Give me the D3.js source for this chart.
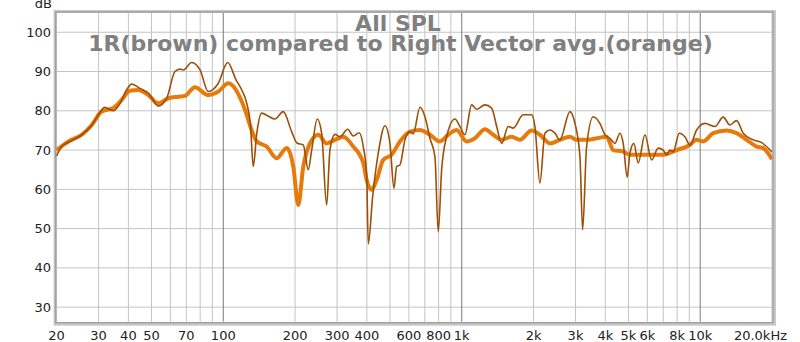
<!DOCTYPE html>
<html><head><meta charset="utf-8">
<script src="https://cdn.jsdelivr.net/npm/d3@7/dist/d3.min.js"></script>
<style>body{margin:0;background:#fff;}svg{display:block;}</style>
</head><body>
<svg id="c" width="800" height="342"></svg>
<script>
const titleTop = "All SPL";
const titleMain = "1R(brown) compared to Right Vector avg.(orange)";
const yTicks = [30,40,50,60,70,80,90,100];
const xGrid = [20,30,40,50,60,70,80,90,100,200,300,400,500,600,700,800,900,1000,2000,3000,4000,5000,6000,7000,8000,9000,10000,20000];
const xDecades = [100,1000,10000];
const xLabelVals = [20,30,40,50,70,100,200,300,400,600,800,1000,2000,3000,4000,5000,6000,8000,10000,20000];
const xLabelText = ["20","30","40","50","70","100","200","300","400","600","800","1k","2k","3k","4k","5k","6k","8k","10k","20.0kHz"];

const brownFreq = [20,21,22.8,25.5,28.1,30.9,31.7,34.6,36.9,39.3,41.3,44.7,48.5,53.4,57.9,62.7,65.8,68,73.7,79.9,86.5,95.3,104.3,113.1,119.5,125.3,130,133.6,138.1,144.9,153.9,164.7,178.4,193.5,203.7,216.5,227.2,234.8,247.8,258.5,271.3,280.1,294,308.6,332.3,350.8,371.7,386.4,399.3,405.5,423.1,446.6,476.4,500,519.6,533.3,550.6,577.9,606.5,626.1,667.9,701,735.6,772,797,823.6,864.3,936.3,982.7,1031,1100,1154,1251,1335,1401,1470,1566,1644,1810,1963,2027,2127,2233,2344,2459,2580,2842,2983,3131,3213,3339,3559,3796,3985,4182,4389,4607,4754,4942,5072,5272,5495,5864,6254,6667,6995,7230,7463,7706,8166,8628,9055,9658,10464,11525,12488,13321,14212,15145,16683,18093,20000];
const brownDb = [68.5,70.9,72.2,73.9,76.4,80.2,80.9,80.0,81.9,85.3,86.8,85.7,84.5,81.2,83.2,90.0,90.6,90.4,92.3,90.4,84.9,87.0,92.3,87.9,85.3,82.0,76.4,65.8,74.1,79.4,78.7,77.9,79.8,74.7,71.8,71.3,65.0,70.0,77.9,74.3,56.0,70.0,74.0,73.4,75.3,73.6,74.4,70.9,63.7,46.1,58.2,69.2,76.2,71.7,60.3,65.8,66.2,72.6,74.7,74.1,80.9,78.5,73.0,68.3,49.2,65.0,73.4,77.9,76.0,73.9,81.5,80.4,81.5,80.7,76.0,71.7,76.0,75.6,79.0,79.0,76.0,61.6,74.3,75.1,74.3,72.6,79.8,76.8,68.3,49.7,70.9,78.5,76.8,73.9,73.0,71.7,74.3,71.7,63.1,69.2,71.7,66.7,73.9,67.5,70.5,70.0,68.8,70.0,69.6,74.3,73.4,71.3,75.1,76.8,76.0,78.4,76.4,77.5,74.3,72.6,71.9,69.5];

const orangeFreq = [20,22.4,25.5,28.1,30.9,34.6,37.5,40.6,44,48.5,53.4,58.8,64.8,69.1,76.1,86.5,95.3,105,113.1,118.7,125.3,130.6,138.1,152,167.5,184.5,196.6,206.3,216.5,230.9,250.2,271.3,294,318.6,350.8,386.4,399.3,419,439.8,468.6,508.2,550.6,606.5,667.9,735.6,810,877.7,951.9,1048,1136,1251,1355,1470,1619,1754,1963,2127,2344,2580,2842,3032,3339,3678,4050,4318,4754,5072,5586,6152,6995,7962,9055,9658,10292,11337,12900,14212,15648,17238,18375,20000];
const orangeDb = [70.0,72.2,73.9,76.4,79.8,80.7,82.8,85.1,85.3,84.0,81.9,83.2,83.6,83.8,86.0,84.0,84.9,87.0,85.3,82.8,79.0,75.6,72.2,70.9,67.9,70.5,65.8,56.0,65.8,71.7,73.9,71.7,72.6,73.4,70.9,66.7,62.4,59.9,62.4,67.5,68.8,72.2,74.7,75.1,73.9,72.2,73.9,75.1,72.2,73.0,75.3,73.9,72.6,73.4,72.6,75.0,73.9,71.7,72.6,73.4,72.6,72.6,73.0,73.4,70.0,69.6,68.8,68.8,68.8,68.8,70.0,71.3,72.6,72.2,74.3,75.0,74.3,72.6,70.9,70.5,67.7];

const svg = d3.select("#c");
const pL = 56.6, pR = 772, pT = 13, pB = 321.7;
const x = d3.scaleLog().domain([20,20000]).range([pL,pR]);
const y = d3.scaleLinear().domain([26.3,104.9]).range([pB,pT]);

svg.append("rect").attr("x",pL-1.5).attr("y",pT-1.5).attr("width",pR-pL+4).attr("height",pB-pT+4)
  .attr("fill","none").attr("stroke","#c8c8c8").attr("stroke-width",3);

const g = svg.append("g");
g.selectAll("line.h").data(yTicks).join("line")
  .attr("x1",pL).attr("x2",pR).attr("y1",d=>y(d)).attr("y2",d=>y(d))
  .attr("stroke","#c4c4c4").attr("stroke-width",1);
g.selectAll("line.v").data(xGrid).join("line")
  .attr("x1",d=>x(d)).attr("x2",d=>x(d)).attr("y1",pT).attr("y2",pB)
  .attr("stroke",d=>xDecades.includes(d)?"#7a7a7a":"#c4c4c4").attr("stroke-width",1);

svg.append("text").attr("x",398).attr("y",31).attr("text-anchor","middle")
  .attr("font-family","DejaVu Sans").attr("font-weight","bold").attr("font-size",22).attr("fill","#808080").text(titleTop);
svg.append("text").attr("x",400.5).attr("y",50.5).attr("text-anchor","middle")
  .attr("font-family","DejaVu Sans").attr("font-weight","bold").attr("font-size",22).attr("fill","#808080").text(titleMain);

const line = d3.line().x(d=>x(d[0])).y(d=>y(d[1])).curve(d3.curveMonotoneX);
svg.append("path").datum(orangeFreq.map((f,i)=>[f,orangeDb[i]]))
  .attr("d",line).attr("fill","none").attr("stroke","#e87a0c").attr("stroke-width",4).attr("stroke-linejoin","round");
svg.append("path").datum(brownFreq.map((f,i)=>[f,brownDb[i]]))
  .attr("d",line).attr("fill","none").attr("stroke","#9c4f05").attr("stroke-width",1.6).attr("stroke-linejoin","round");

svg.append("rect").attr("x",pL-1).attr("y",pT-1).attr("width",pR-pL+2).attr("height",pB-pT+2)
  .attr("fill","none").attr("stroke","#a0a0a0").attr("stroke-width",1.5);

svg.selectAll("text.yl").data(yTicks).join("text")
  .attr("x",51).attr("y",d=>y(d)+4.5).attr("text-anchor","end")
  .attr("font-family","DejaVu Sans").attr("font-size",13).attr("fill","#222").text(d=>d);
svg.append("text").attr("x",52).attr("y",8).attr("text-anchor","end")
  .attr("font-family","DejaVu Sans").attr("font-size",13).attr("fill","#222").text("dB");

svg.selectAll("text.xl").data(xLabelVals).join("text")
  .attr("x",(d,i)=> i===xLabelVals.length-1 ? 787 : x(d))
  .attr("y",339.5).attr("text-anchor",(d,i)=> i===xLabelVals.length-1 ? "end" : "middle")
  .attr("font-family","DejaVu Sans").attr("font-size",13).attr("fill","#222").text((d,i)=>xLabelText[i]);
</script>
</body></html>
